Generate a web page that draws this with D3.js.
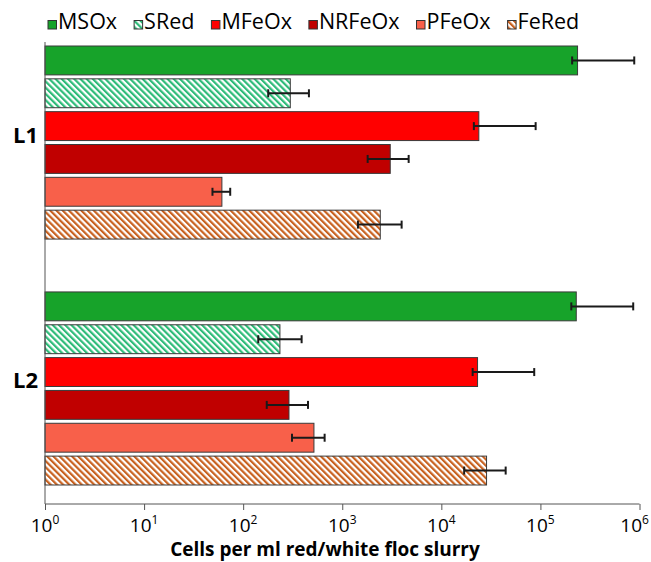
<!DOCTYPE html>
<html>
<head>
<meta charset="utf-8">
<script src="https://cdn.jsdelivr.net/npm/d3@7/dist/d3.min.js"></script>
<style>
  body { margin: 0; background: #fff; }
  text { font-family: "Open Sans", sans-serif; fill: #000; }
</style>
</head>
<body>
<div id="chart"></div>
<script>
const W = 651, H = 562;

// data
const groups = ["L1", "L2"];
const series = ["MSOx", "SRed", "MFeOx", "NRFeOx", "PFeOx", "FeRed"];
const colors = ["#17a32a", "#2dbb78", "#ff0000", "#c00000", "#f8604a", "#c8611f"];
const hatched = [false, true, false, false, false, true];

const valuesL1 = [237000, 299, 23900, 3050, 61, 2420];
const lowL1    = [209000, 179, 21300, 1805, 49, 1440];
const highL1   = [885000, 461, 89500, 4680, 74, 3975];

const valuesL2 = [230000, 235, 23200, 290, 518, 28600];
const lowL2    = [205000, 142, 20700, 173, 311, 17000];
const highL2   = [864000, 389, 86600, 451, 664, 44600];

const tickValues = [1, 10, 100, 1000, 10000, 100000, 1000000];
const tickExp = ["0", "1", "2", "3", "4", "5", "6"];

const rows = [];
groups.forEach(function(g, gi) {
  const v = gi === 0 ? valuesL1 : valuesL2;
  const lo = gi === 0 ? lowL1 : lowL2;
  const hi = gi === 0 ? highL1 : highL2;
  series.forEach(function(s, si) {
    rows.push({group: g, series: s, i: si, value: v[si], low: lo[si], high: hi[si]});
  });
});

const svg = d3.select("#chart").append("svg")
  .attr("width", W).attr("height", H);

// hatch patterns
const defs = svg.append("defs");
series.forEach(function(s, i) {
  if (!hatched[i]) return;
  const p = defs.append("pattern")
    .attr("id", "hatch-" + s)
    .attr("patternUnits", "userSpaceOnUse")
    .attr("width", 4.4).attr("height", 4.4)
    .attr("patternTransform", "rotate(-45)");
  p.append("rect").attr("width", 4.4).attr("height", 4.4).attr("fill", "#fff");
  p.append("rect").attr("width", 2.2).attr("height", 4.4).attr("fill", colors[i]);
});
function fillOf(i) {
  return hatched[i] ? "url(#hatch-" + series[i] + ")" : colors[i];
}

const x = d3.scaleLog().domain([1, 1e6]).range([45, 639.5]);
const y0 = d3.scaleBand().domain(groups).range([46, 485]).paddingInner(0.215);
const y1 = d3.scaleBand().domain(series).range([0, y0.bandwidth()]).paddingInner(0.12);

const axisY = 504;

// bars
svg.append("g").selectAll("rect")
  .data(rows).enter().append("rect")
  .attr("x", x(1))
  .attr("y", d => y0(d.group) + y1(d.series))
  .attr("width", d => x(d.value) - x(1))
  .attr("height", y1.bandwidth())
  .attr("fill", d => fillOf(d.i))
  .attr("stroke", "#3a3a3a")
  .attr("stroke-width", 1);

// error bars
const eb = svg.append("g").attr("stroke", "#1a1a1a").attr("stroke-width", 2);
rows.forEach(function(d) {
  const cy = y0(d.group) + y1(d.series) + y1.bandwidth() / 2;
  eb.append("line").attr("x1", x(d.low)).attr("x2", x(d.high)).attr("y1", cy).attr("y2", cy);
  [d.low, d.high].forEach(function(v) {
    eb.append("line").attr("x1", x(v)).attr("x2", x(v)).attr("y1", cy - 4).attr("y2", cy + 4);
  });
});

// axes
const xAxis = svg.append("g").attr("transform", "translate(0," + axisY + ")")
  .call(d3.axisBottom(x).tickValues(tickValues).tickSize(6).tickFormat(""));
xAxis.select(".domain").attr("stroke", "#555").attr("d", "M" + x(1) + ",0H" + x(1e6));
xAxis.selectAll(".tick line").attr("stroke", "#555");

svg.append("line")
  .attr("x1", x(1)).attr("x2", x(1))
  .attr("y1", 42).attr("y2", axisY)
  .attr("stroke", "#555");

// tick labels with superscripts
const tl = svg.append("g").selectAll("text")
  .data(tickValues).enter().append("text")
  .attr("x", d => x(d))
  .attr("y", 532)
  .attr("text-anchor", "middle")
  .style("font-size", "19px");
tl.append("tspan").text("10");
tl.append("tspan").attr("dy", -8).style("font-size", "12px").text((d, i) => tickExp[i]);
// keep the last label inside the picture
tl.each(function(d) {
  const b = this.getBBox();
  if (b.x + b.width > W - 2) d3.select(this).attr("x", x(d) - (b.x + b.width - (W - 2)));
});

svg.append("text")
  .attr("x", 325).attr("y", 556)
  .attr("text-anchor", "middle")
  .style("font-size", "19px").style("font-weight", "bold")
  .text("Cells per ml red/white floc slurry");

// group labels
svg.append("g").selectAll("text")
  .data(groups).enter().append("text")
  .attr("x", 38)
  .attr("y", d => y0(d) + y0.bandwidth() / 2)
  .attr("text-anchor", "end")
  .style("font-size", "22px").style("font-weight", "bold")
  .text(d => d);

// legend
const leg = svg.append("g");
let lx = 48;
series.forEach(function(s, i) {
  leg.append("rect")
    .attr("x", lx).attr("y", 20.5).attr("width", 8.5).attr("height", 8.5)
    .attr("fill", fillOf(i)).attr("stroke", "#333").attr("stroke-width", 1);
  const t = leg.append("text")
    .attr("x", lx + 10).attr("y", 29)
    .style("font-size", "21.5px")
    .text(s);
  lx += 10 + t.node().getComputedTextLength() + 17;
});
</script>
</body>
</html>
